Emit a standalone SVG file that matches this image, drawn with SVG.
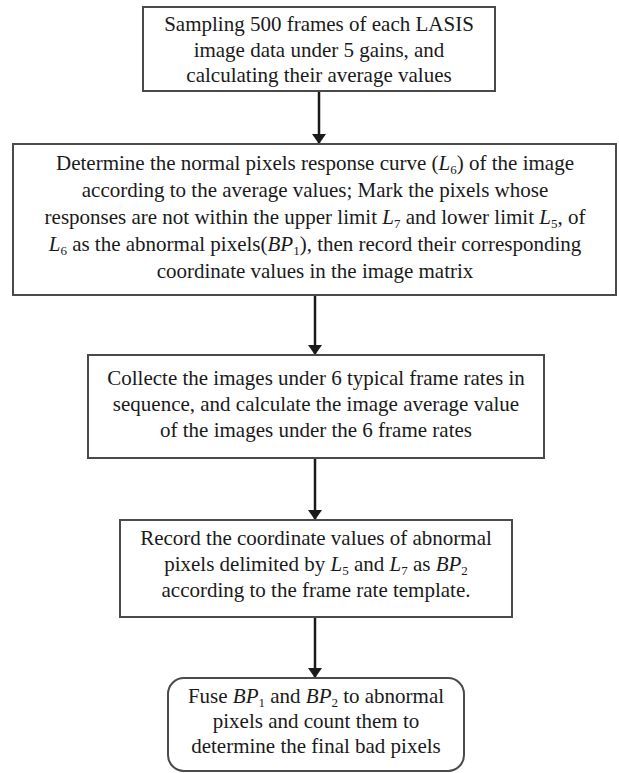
<svg xmlns="http://www.w3.org/2000/svg" width="619" height="773" viewBox="0 0 619 773">
<style>
  .box { fill: #ffffff; stroke: #4a4a4a; stroke-width: 2; }
  .t { font-family: "Liberation Serif", "Times New Roman", serif; font-size: 21px; fill: #1a1a1a; text-anchor: middle; }
  .i { font-style: italic; }
  .s { font-size: 13px; }
  .conn { stroke: #1a1a1a; stroke-width: 2.5; fill: none; marker-end: url(#ah); }
</style>
<defs>
  <marker id="ah" viewBox="0 0 10 14" refX="10" refY="7" markerWidth="10" markerHeight="14" markerUnits="userSpaceOnUse" orient="auto">
    <path d="M0,0 L10,7 L0,14 Z" fill="#1a1a1a"/>
  </marker>
</defs>
<rect width="619" height="773" fill="#ffffff"/>
<g id="connectors">
  <line class="conn" x1="319" y1="92" x2="319" y2="144"/>
  <line class="conn" x1="315" y1="296" x2="315" y2="355"/>
  <line class="conn" x1="315" y1="459" x2="315" y2="520"/>
  <line class="conn" x1="315" y1="618" x2="315" y2="678"/>
</g>
<g id="n1">
  <rect class="box" x="143" y="7" width="352" height="84"/>
  <text class="t" x="319" y="31">Sampling 500 frames of each LASIS</text>
  <text class="t" x="319" y="57">image data under 5 gains, and</text>
  <text class="t" x="319" y="82">calculating their average values</text>
</g>
<g id="n2">
  <rect class="box" x="13" y="144" width="603" height="151"/>
  <text class="t" x="315" y="170">Determine the normal pixels response curve (<tspan class="i">L</tspan><tspan class="s" dy="4">6</tspan><tspan dy="-4">) of the image</tspan></text>
  <text class="t" x="315" y="197">according to the average values; Mark the pixels whose</text>
  <text class="t" x="315" y="224">responses are not within the upper limit <tspan class="i">L</tspan><tspan class="s" dy="4">7</tspan><tspan dy="-4"> and lower limit </tspan><tspan class="i">L</tspan><tspan class="s" dy="4">5</tspan><tspan dy="-4">, of</tspan></text>
  <text class="t" x="315" y="251"><tspan class="i">L</tspan><tspan class="s" dy="4">6</tspan><tspan dy="-4"> as the abnormal pixels(</tspan><tspan class="i">BP</tspan><tspan class="s" dy="4">1</tspan><tspan dy="-4">), then record their corresponding</tspan></text>
  <text class="t" x="315" y="278">coordinate values in the image matrix</text>
</g>
<g id="n3">
  <rect class="box" x="88" y="355" width="456" height="103"/>
  <text class="t" x="316" y="385">Collecte the images under 6 typical frame rates in</text>
  <text class="t" x="316" y="411">sequence, and calculate the image average value</text>
  <text class="t" x="316" y="437">of the images under the 6 frame rates</text>
</g>
<g id="n4">
  <rect class="box" x="120" y="520" width="392" height="97"/>
  <text class="t" x="316" y="545">Record the coordinate values of abnormal</text>
  <text class="t" x="316" y="571">pixels delimited by <tspan class="i">L</tspan><tspan class="s" dy="4">5</tspan><tspan dy="-4"> and </tspan><tspan class="i">L</tspan><tspan class="s" dy="4">7</tspan><tspan dy="-4"> as </tspan><tspan class="i">BP</tspan><tspan class="s" dy="4">2</tspan></text>
  <text class="t" x="316" y="597">according to the frame rate template.</text>
</g>
<g id="n5">
  <rect class="box" x="168" y="678" width="296" height="93" rx="16" ry="16"/>
  <text class="t" x="316" y="703">Fuse <tspan class="i">BP</tspan><tspan class="s" dy="4">1</tspan><tspan dy="-4"> and </tspan><tspan class="i">BP</tspan><tspan class="s" dy="4">2</tspan><tspan dy="-4"> to abnormal</tspan></text>
  <text class="t" x="316" y="728">pixels and count them to</text>
  <text class="t" x="316" y="753">determine the final bad pixels</text>
</g>
</svg>
